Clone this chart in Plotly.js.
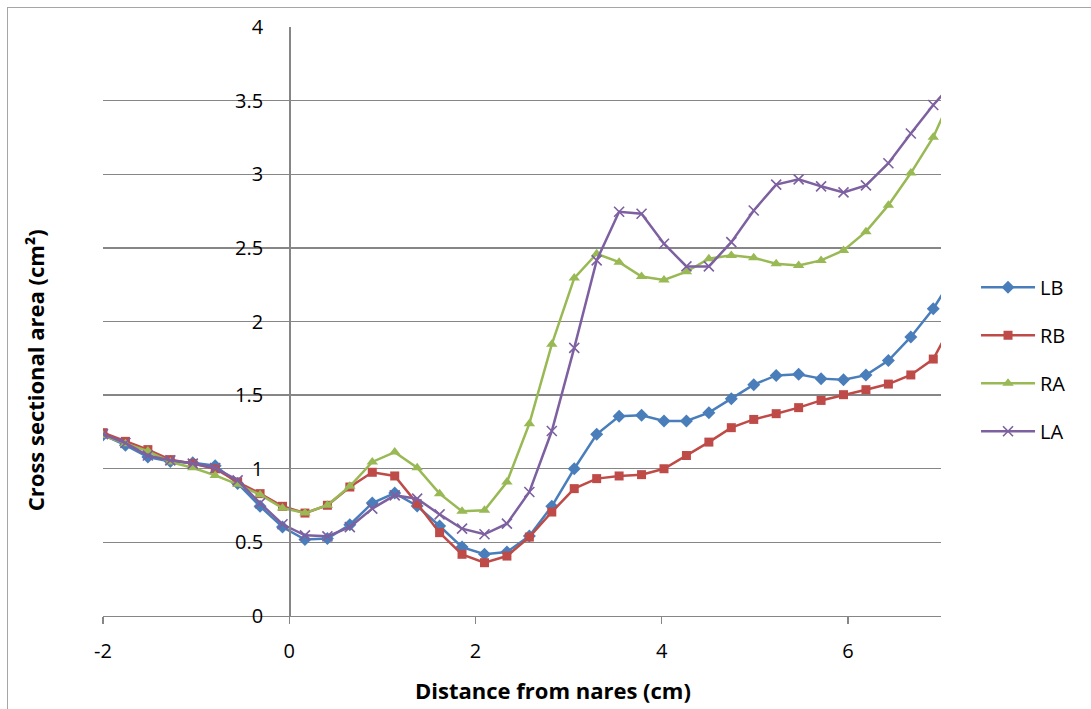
<!DOCTYPE html>
<html>
<head>
<meta charset="utf-8">
<script src="https://cdn.plot.ly/plotly-3.0.1.min.js"></script>
<style>
  html, body { margin: 0; padding: 0; background: #ffffff; overflow: hidden; }
  #wrap { position: relative; width: 1091px; height: 709px; }
  #chart { position: absolute; left: 0; top: 0; width: 1091px; height: 709px; }
  #frame { position: absolute; left: 7px; top: 7px; width: 1100px; height: 720px;
           border: 1px solid #a6a6a6; pointer-events: none; }
</style>
</head>
<body>
<div id="wrap">
  <div id="chart"></div>
  <div id="frame"></div>
</div>
<script>
// Distance from nares (cm)
const distance = [-2, -1.759, -1.518, -1.277, -1.036, -0.795, -0.554, -0.313, -0.072, 0.169,
  0.41, 0.651, 0.892, 1.133, 1.374, 1.615, 1.856, 2.097, 2.338, 2.579,
  2.82, 3.061, 3.302, 3.543, 3.784, 4.025, 4.266, 4.507, 4.748, 4.989,
  5.23, 5.471, 5.712, 5.953, 6.194, 6.435, 6.676, 6.917, 7.158];

const LB = [1.23, 1.16, 1.08, 1.05, 1.04, 1.02, 0.90, 0.745, 0.604, 0.519,
  0.527, 0.62, 0.767, 0.835, 0.747, 0.611, 0.468, 0.419, 0.435, 0.543,
  0.745, 1.0, 1.234, 1.356, 1.363, 1.325, 1.324, 1.381, 1.476, 1.571,
  1.634, 1.641, 1.612, 1.605, 1.636, 1.735, 1.895, 2.087, 2.33];

const RB = [1.245, 1.186, 1.13, 1.062, 1.035, 1.0, 0.91, 0.831, 0.745, 0.699,
  0.752, 0.876, 0.976, 0.951, 0.763, 0.566, 0.419, 0.362, 0.407, 0.536,
  0.706, 0.865, 0.933, 0.951, 0.96, 1.0, 1.09, 1.181, 1.279, 1.335,
  1.374, 1.415, 1.464, 1.503, 1.537, 1.575, 1.637, 1.745, 2.03];

const RA = [1.225, 1.17, 1.12, 1.046, 1.007, 0.955, 0.894, 0.824, 0.733, 0.699,
  0.752, 0.881, 1.046, 1.113, 1.007, 0.831, 0.711, 0.718, 0.91, 1.306,
  1.845, 2.295, 2.46, 2.403, 2.306, 2.282, 2.338, 2.426, 2.449, 2.433,
  2.392, 2.381, 2.415, 2.483, 2.61, 2.79, 3.008, 3.252, 3.59];

const LA = [1.235, 1.175, 1.09, 1.057, 1.035, 1.005, 0.921, 0.767, 0.623, 0.548,
  0.541, 0.604, 0.729, 0.819, 0.797, 0.69, 0.593, 0.555, 0.627, 0.842,
  1.256, 1.821, 2.415, 2.745, 2.732, 2.528, 2.374, 2.374, 2.539, 2.754,
  2.93, 2.965, 2.918, 2.877, 2.924, 3.075, 3.277, 3.47, 3.64];

const xTicks = [-2, 0, 2, 4, 6];
const yTicks = [0, 0.5, 1, 1.5, 2, 2.5, 3, 3.5, 4];

const xTitle = 'Distance from nares (cm)';
const yTitle = 'Cross sectional area (cm²)';

const FONT = '"Open Sans", Lato, "DejaVu Sans", sans-serif';

function series(name, y, color, symbol, size, extra) {
  const marker = Object.assign({ color: color, symbol: symbol, size: size }, extra || {});
  return {
    type: 'scatter', mode: 'lines+markers', name: name, legendgroup: name,
    x: distance, y: y, cliponaxis: true,
    line: { color: color, width: 2.5 },
    marker: marker
  };
}

const data = [
  series('LB', LB, '#4a7ebb', 'diamond', 10),
  series('RB', RB, '#be4b48', 'square', 9),
  series('RA', RA, '#98b954', 'triangle-up', 10),
  series('LA', LA, '#7d60a0', 'x-thin', 10, { line: { color: '#7d60a0', width: 1.6 } })
];

const titleFont = { family: FONT, size: 22, color: '#000000', weight: 'bold' };

const layout = {
  width: 1091, height: 709,
  margin: { l: 103, r: 150, t: 26.5, b: 93, pad: 0 },
  paper_bgcolor: '#ffffff', plot_bgcolor: '#ffffff',
  font: { family: FONT, size: 20, color: '#000000' },
  showlegend: true,
  legend: {
    x: 1.0418, y: 0.436, xanchor: 'left', yanchor: 'middle',
    font: { family: FONT, size: 20, color: '#000000' },
    itemwidth: 54, tracegroupgap: 19, bgcolor: 'rgba(0,0,0,0)'
  },
  xaxis: {
    range: [-2, 7], tickvals: xTicks, ticktext: xTicks.map(String),
    showgrid: false, zeroline: false,
    showline: true, linecolor: '#868686', linewidth: 1.3,
    ticks: 'outside', ticklen: 7, tickcolor: '#868686', tickwidth: 1.3,
    ticklabelstandoff: 10,
    tickfont: { family: FONT, size: 20, color: '#000000' },
    fixedrange: true
  },
  yaxis: {
    range: [0, 4], tickvals: yTicks, ticktext: yTicks.map(String),
    anchor: 'free', position: 2 / 9,
    showgrid: true, gridcolor: '#868686', gridwidth: 1.3,
    zeroline: false,
    showline: true, linecolor: '#868686', linewidth: 1.3,
    ticks: '', ticklabelstandoff: 22,
    tickfont: { family: FONT, size: 20, color: '#000000' },
    fixedrange: true
  },
  annotations: [
    { text: xTitle, xref: 'paper', yref: 'paper', x: 0.537, y: -0.1255,
      xanchor: 'center', yanchor: 'middle', showarrow: false, font: titleFont },
    { text: yTitle, xref: 'paper', yref: 'paper', x: -0.0811, y: 0.4173,
      xanchor: 'center', yanchor: 'middle', textangle: -90, showarrow: false, font: titleFont }
  ]
};

Plotly.newPlot('chart', data, layout, { displayModeBar: false, staticPlot: true });
</script>
</body>
</html>
